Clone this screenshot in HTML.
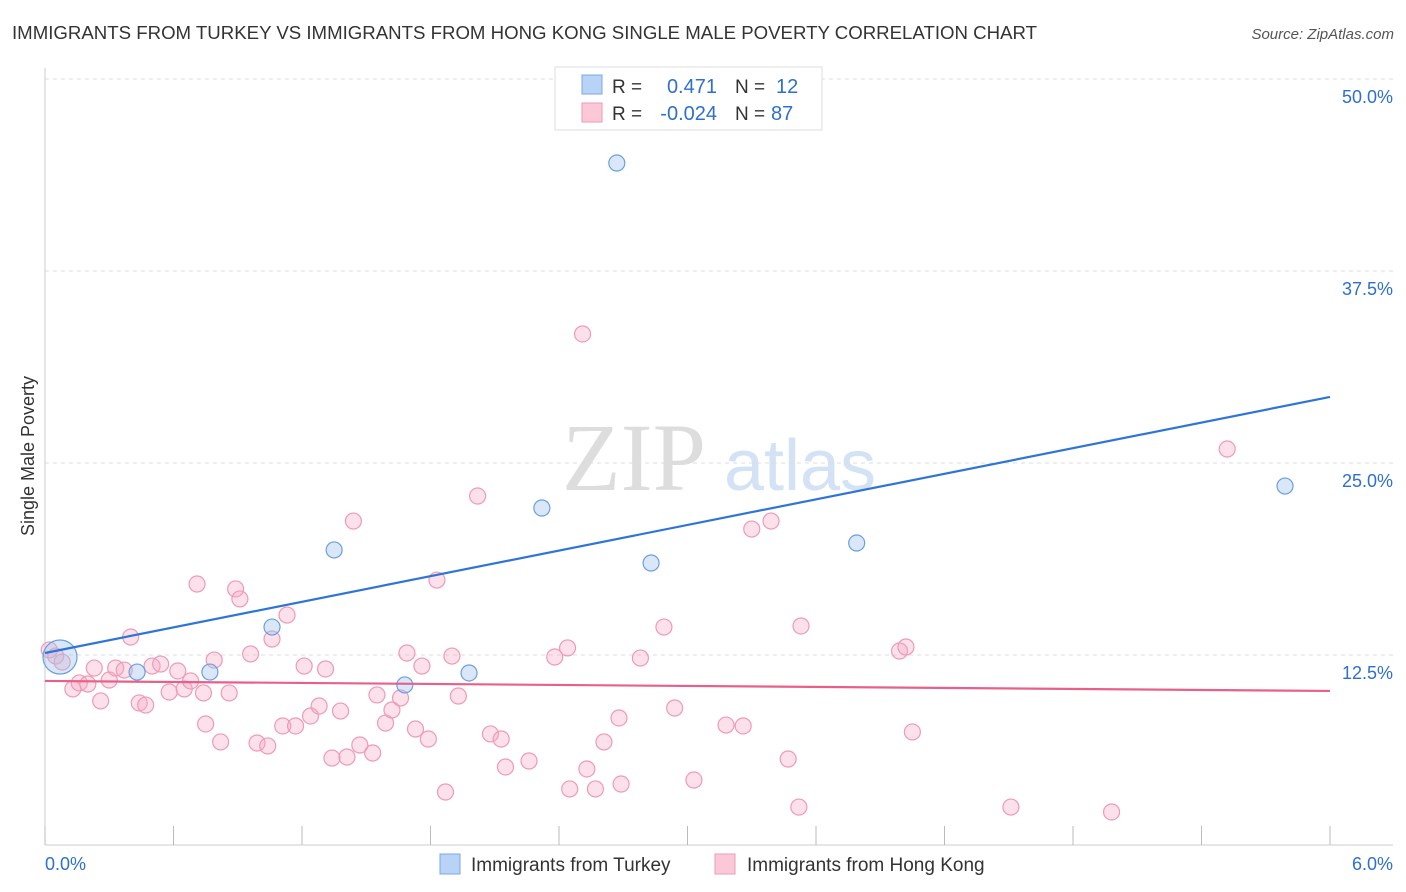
<!DOCTYPE html>
<html><head><meta charset="utf-8"><style>
body{margin:0;background:#fff;font-family:"Liberation Sans",sans-serif;}
svg{display:block}
</style></head><body>
<svg id="c" width="1406" height="892">
<text x="12" y="39" font-size="18" fill="#333" textLength="1025" lengthAdjust="spacingAndGlyphs">IMMIGRANTS FROM TURKEY VS IMMIGRANTS FROM HONG KONG SINGLE MALE POVERTY CORRELATION CHART</text>
<text x="1394" y="39" font-size="15" fill="#555" font-style="italic" text-anchor="end">Source: ZipAtlas.com</text>
<text x="634" y="490" font-size="96" fill="#ddd" font-family="Liberation Serif" text-anchor="middle">ZIP</text>
<text x="800" y="490" font-size="72" fill="#d3e2f5" text-anchor="middle">atlas</text>
<text transform="translate(34,456) rotate(-90)" font-size="18" fill="#333" text-anchor="middle">Single Male Poverty</text>
<g id="grid"></g><g id="marks"></g>
<g>
<rect x="555" y="67" width="267" height="63" fill="#fff" stroke="#ddd"/>
<rect x="582" y="75" width="20" height="19" fill="#b8d3f5" stroke="#7aa8e6"/>
<rect x="582" y="103" width="20" height="19" fill="#fbc8d7" stroke="#ee9bb5"/>
<text x="612" y="93" font-size="19" fill="#333">R = </text><text x="717" y="93" font-size="20" fill="#2e6fd0" text-anchor="end">0.471</text>
<text x="735" y="93" font-size="19" fill="#333">N = </text><text x="776" y="93" font-size="20" fill="#2e6fd0">12</text>
<text x="612" y="120" font-size="19" fill="#333">R = </text><text x="717" y="120" font-size="20" fill="#2e6fd0" text-anchor="end">-0.024</text>
<text x="735" y="120" font-size="19" fill="#333">N = </text><text x="771" y="120" font-size="20" fill="#2e6fd0">87</text>
</g>
<g>
<rect x="440" y="854" width="20" height="20" fill="#b8d3f5" stroke="#7aa8e6"/>
<text x="471" y="871" font-size="19" fill="#333">Immigrants from Turkey</text>
<rect x="715" y="854" width="20" height="20" fill="#fbc8d7" stroke="#ee9bb5"/>
<text x="747" y="871" font-size="19" fill="#333">Immigrants from Hong Kong</text>
</g>
<text x="45" y="870" font-size="18" fill="#2e6fd0">0.0%</text>
<text x="1393" y="870" font-size="18" fill="#2e6fd0" text-anchor="end">6.0%</text>
</svg>
<script>
const yTicks=[12.5,25,37.5,50];
const yTickLabels=["12.5%","25.0%","37.5%","50.0%"];
const xTicks=[0,0.6,1.2,1.8,2.4,3,3.6,4.2,4.8,5.4,6];
const turkeyX=[0.07,0.43,0.77,1.06,1.35,1.68,1.98,2.32,2.67,2.83,3.79,5.79];
const turkeyY=[12.37,11.39,11.39,14.32,19.34,10.55,11.33,22.07,44.53,18.49,19.79,23.50];
const hkX=[0.02,0.05,0.08,0.13,0.16,0.20,0.23,0.26,0.30,0.33,0.37,0.40,0.44,0.47,0.50,0.54,0.58,0.62,0.65,0.68,0.71,0.74,0.75,0.79,0.82,0.86,0.89,0.91,0.96,0.99,1.04,1.06,1.11,1.13,1.17,1.21,1.24,1.28,1.31,1.34,1.38,1.41,1.44,1.47,1.53,1.55,1.59,1.62,1.66,1.69,1.73,1.76,1.79,1.83,1.87,1.90,1.93,2.02,2.08,2.13,2.15,2.26,2.38,2.44,2.45,2.53,2.57,2.61,2.68,2.69,2.78,2.89,2.94,3.03,3.18,3.26,3.30,3.39,3.47,3.52,3.53,3.99,4.02,4.05,4.51,4.98,5.52,2.51];
const hkY=[12.83,12.43,12.04,10.29,10.68,10.61,11.65,9.51,10.87,11.65,11.52,13.67,9.38,9.24,11.78,11.91,10.09,11.46,10.29,10.81,17.12,10.03,8.01,12.17,6.84,10.03,16.80,16.15,12.57,6.77,6.58,13.54,7.88,15.10,7.88,11.78,8.53,9.18,11.59,5.79,8.85,5.86,21.22,6.64,6.12,9.90,8.07,8.92,9.70,12.63,7.68,11.78,7.03,17.38,3.58,12.43,9.83,22.85,7.36,7.03,5.21,5.60,12.37,12.96,3.78,5.08,3.78,6.84,8.40,4.10,12.30,14.32,9.05,4.36,7.94,7.88,20.70,21.22,5.73,2.60,14.39,12.76,13.02,7.49,2.60,2.28,25.91,33.40];
const turkeyLine=[12.63,29.30];
const hkLine=[10.81,10.16];
const X=v=>45+v/6*1285, Y=v=>847-v/12.5*192;
const NS="http://www.w3.org/2000/svg";
function mk(t,a,p){const e=document.createElementNS(NS,t);for(const k in a)e.setAttribute(k,a[k]);p.appendChild(e);return e;}
const g=document.getElementById('grid'), m=document.getElementById('marks');
yTicks.forEach((t,i)=>{
 const l=mk('line',{x1:45,x2:1393,y1:Y(t),y2:Y(t),stroke:'#ddd','stroke-dasharray':'4,4'},g);
 
 
 const tx=mk('text',{x:1393,y:Y(t)+24,'font-size':18,fill:'#2e6fd0','text-anchor':'end'},g);
 tx.textContent=yTickLabels[i];
 
 
});
const ax=mk('line',{x1:45,x2:1393,y1:845,y2:845,stroke:'#ccc'},g);


const ay=mk('line',{x1:45,x2:45,y1:68,y2:845,stroke:'#ccc'},g);


xTicks.forEach(t=>{
 const l=mk('line',{x1:X(t),x2:X(t),y1:826,y2:845,stroke:'#bbb'},g);
 
 
});
hkX.forEach((v,i)=>{
 const c=mk('circle',{cx:X(v),cy:Y(hkY[i]),r:8,fill:'rgba(245,170,195,0.35)',stroke:'#ee9ab5','stroke-width':1.2},m);
 
 
});
turkeyX.forEach((v,i)=>{
 const c=mk('circle',{cx:X(v),cy:Y(turkeyY[i]),r:i==0?17:8,fill:'rgba(160,195,240,0.4)',stroke:'#6a9fe0','stroke-width':1.2},m);
 
 
});
const tl=mk('line',{x1:X(0),x2:X(6),y1:Y(turkeyLine[0]),y2:Y(turkeyLine[1]),stroke:'#2e75d6','stroke-width':2.2},m);


const hl=mk('line',{x1:X(0),x2:X(6),y1:Y(hkLine[0]),y2:Y(hkLine[1]),stroke:'#e8608a','stroke-width':2.2},m);


</script>
</body></html>
